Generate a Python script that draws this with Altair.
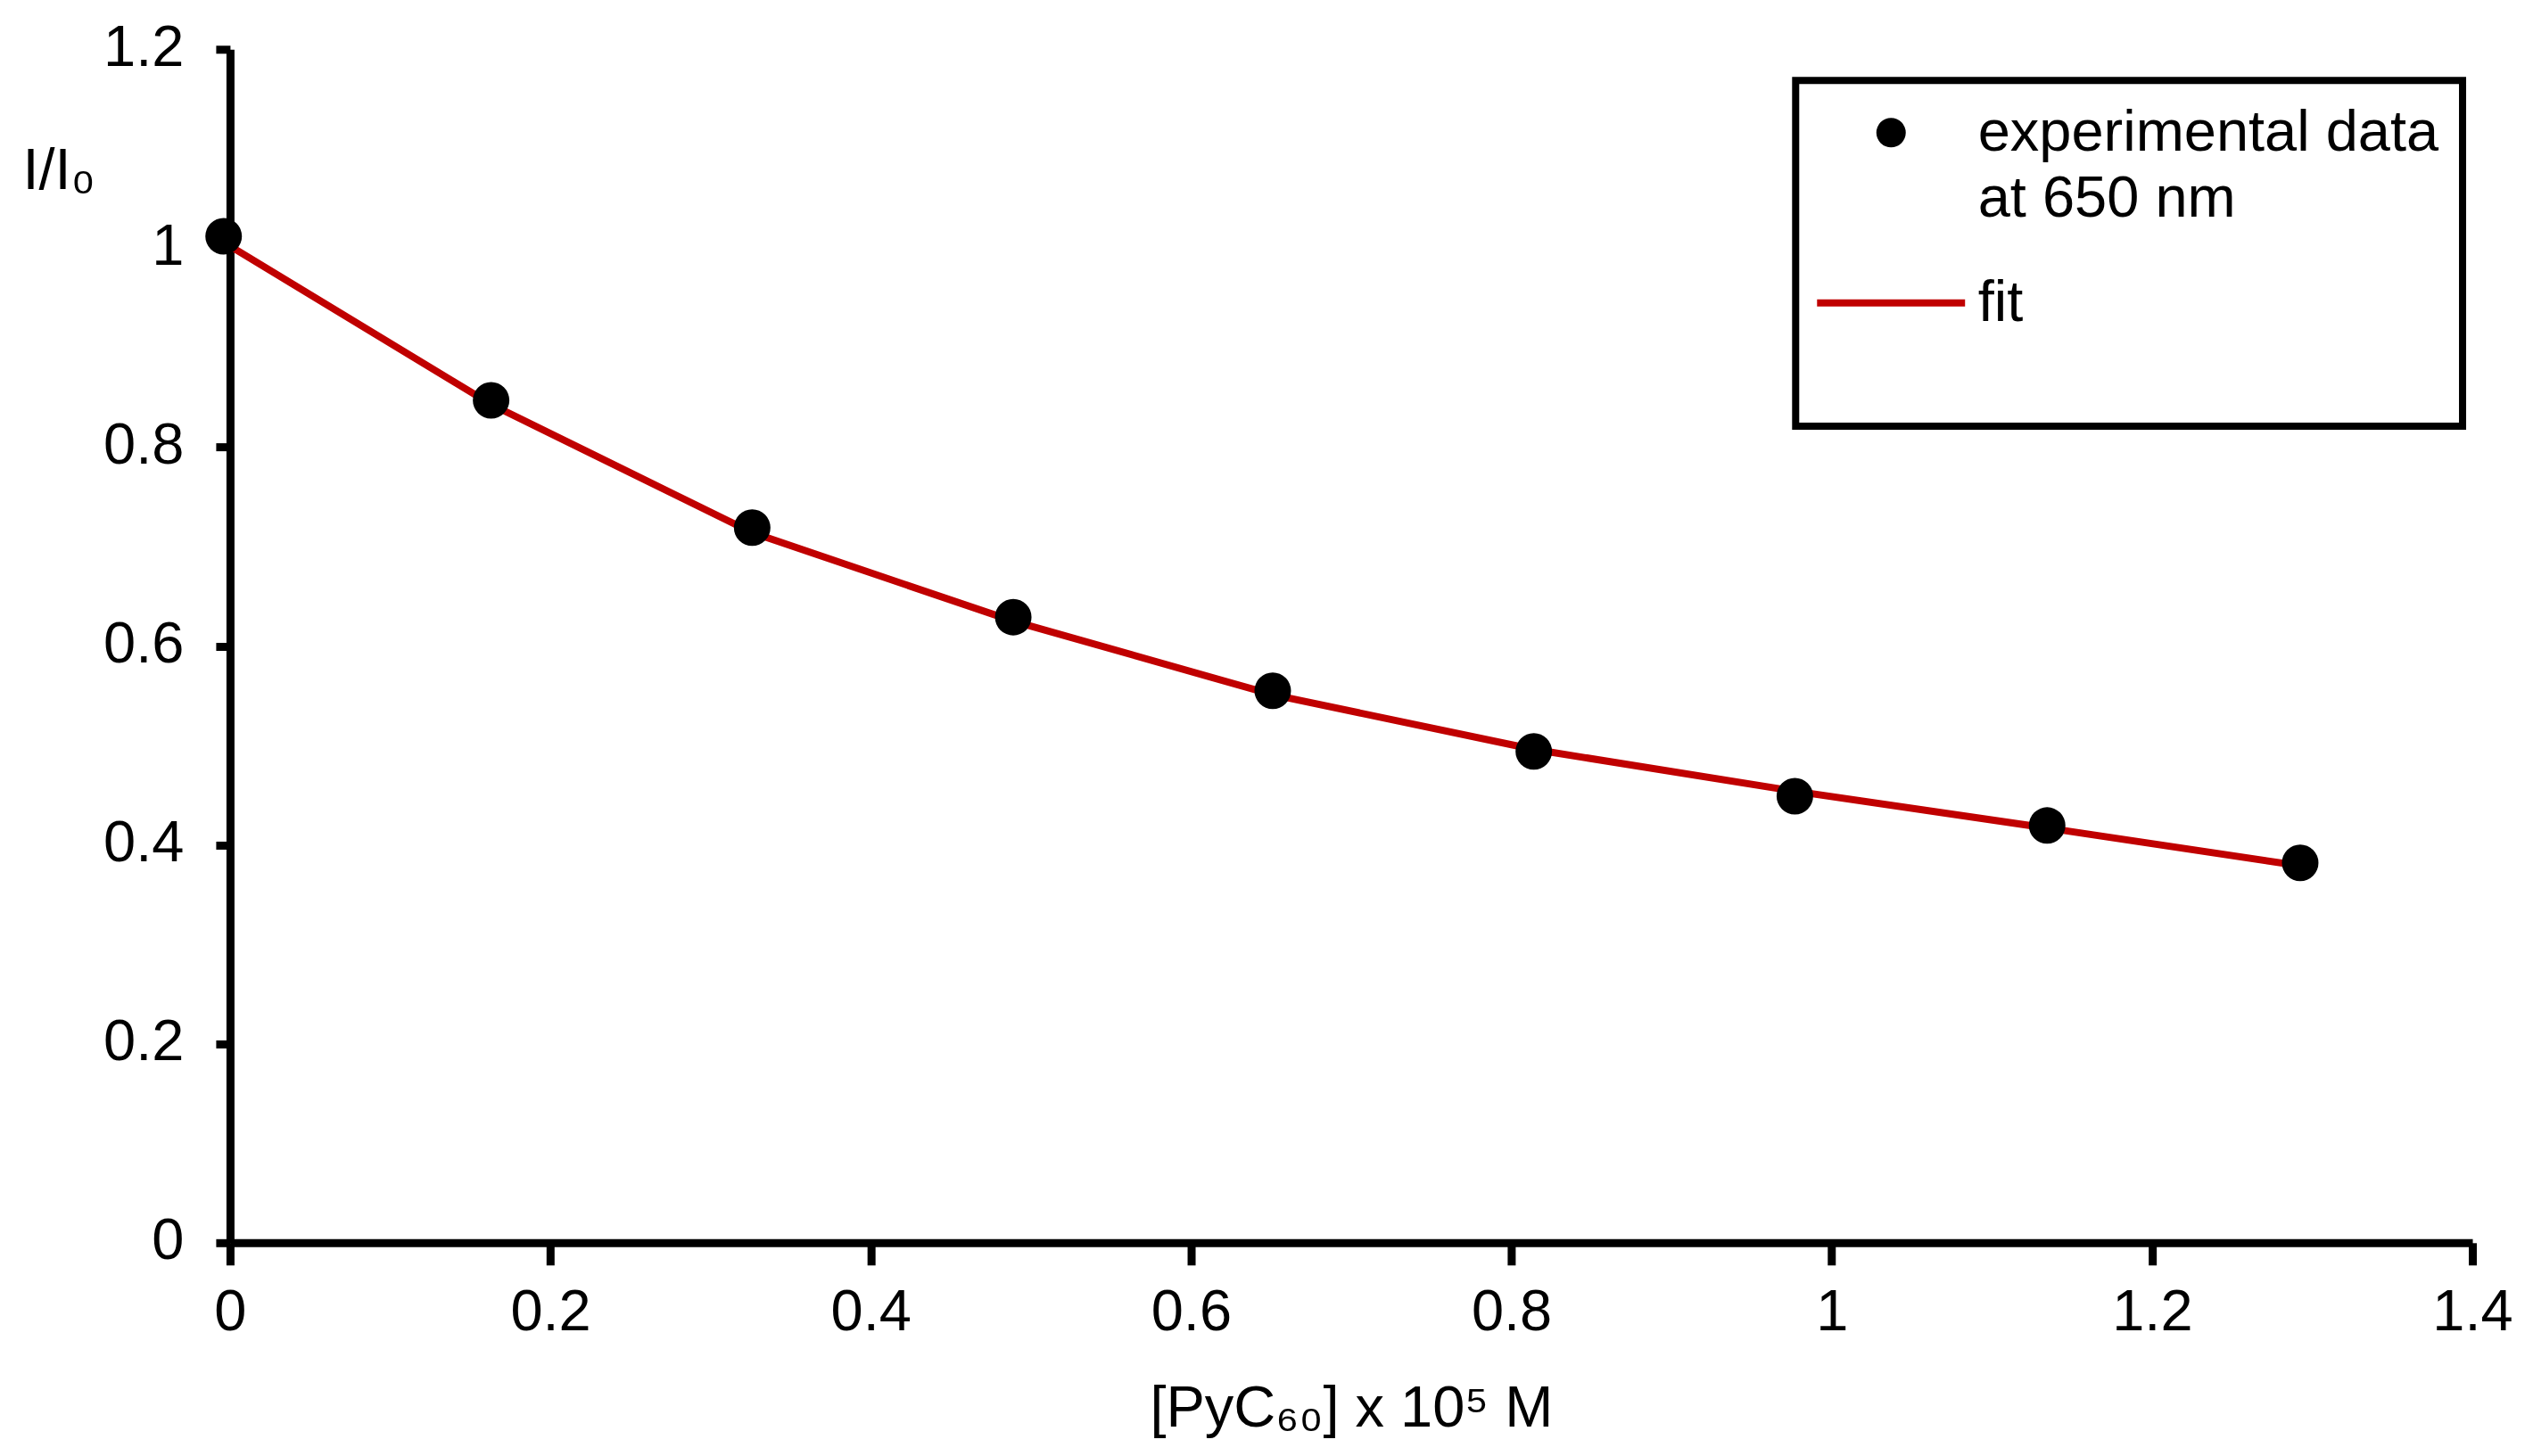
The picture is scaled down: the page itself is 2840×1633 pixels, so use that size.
import altair as alt
import pandas as pd

# ---- data ----
conc = [-0.004, 0.163, 0.326, 0.489, 0.651, 0.814, 0.977, 1.1345, 1.2925]
experimental = [1.012, 0.847, 0.719, 0.629, 0.555, 0.494, 0.449, 0.4195, 0.382]
fit = [1.006, 0.843, 0.714, 0.625, 0.551, 0.496, 0.454, 0.417, 0.379]

series_names = ["experimental data|at 650 nm", "fit"]
x_ticks = [0, 0.2, 0.4, 0.6, 0.8, 1.0, 1.2, 1.4]
y_ticks = [0, 0.2, 0.4, 0.6, 0.8, 1.0, 1.2]
x_title = "[PyC₆₀] x 10⁵ M"
y_title = "I/I₀"

exp_df = pd.DataFrame({"x": conc, "y": experimental, "series": series_names[0]})
fit_df = pd.DataFrame({"x": conc, "y": fit, "series": series_names[1]})

FONT = "Liberation Sans"
RED = "#C00000"

x_enc = alt.X(
    "x:Q",
    scale=alt.Scale(domain=[0, 1.4], nice=False, zero=False),
    axis=alt.Axis(
        values=x_ticks, format="~g", title=x_title, tickSize=25, labelFlush=False,
        labelPadding=22, titleY=206, titleBaseline="alphabetic",
    ),
)
y_enc = alt.Y(
    "y:Q",
    scale=alt.Scale(domain=[0, 1.2], nice=False),
    axis=alt.Axis(
        values=y_ticks, format="~g", title=y_title, tickSize=16, labelFlush=False,
        labelPadding=36, labelOffset=-2, titleAngle=0, titleX=-233, titleY=156,
        titleAlign="left", titleBaseline="alphabetic",
    ),
)

line = alt.Chart(fit_df).mark_line(color=RED, strokeWidth=8).encode(
    x=x_enc, y=y_enc
)

legend = alt.Legend(
    orient="none", legendX=1756, legendY=35,
    title=" ", titleOrient="bottom", titleFontSize=10, titlePadding=69,
    padding=26, strokeColor="black",
    labelFont=FONT, labelFontSize=65, labelColor="black", labelLimit=1000,
    labelOffset=65, symbolOffset=48.5, symbolSize=1089, symbolStrokeWidth=0,
    rowPadding=51, labelBaseline="middle",
    labelExpr="split(datum.label, '|')",
)

points = alt.Chart(exp_df).mark_point(filled=True, size=1681, opacity=1, strokeWidth=0).encode(
    x=x_enc,
    y=y_enc,
    color=alt.Color("series:N", scale=alt.Scale(domain=series_names, range=["black", RED]), legend=legend),
    shape=alt.Shape(
        "series:N",
        scale=alt.Scale(domain=series_names, range=["circle", "M-5.03,-0.24H5.03V0.24H-5.03Z"]),
        legend=legend,
    ),
)

chart = (
    alt.layer(line, points)
    .properties(
        width=2515, height=1339,
        autosize=alt.AutoSizeParams(type="none"),
        padding={"left": 250, "top": 47, "right": 60, "bottom": 230},
    )
    .configure(font=FONT, style={"guide-label": {"lineHeight": 74}})
    .configure_view(stroke=None)
    .configure_legend(strokeWidth=8)
    .configure_axis(
        grid=False, domainColor="black", domainWidth=9, tickColor="black", tickWidth=9,
        labelFont=FONT, labelFontSize=65, labelColor="black",
        titleFont=FONT, titleFontSize=65, titleColor="black", titleFontWeight="normal",
    )
)

chart.save("out.html", embed_options={"renderer": "svg", "actions": False})
